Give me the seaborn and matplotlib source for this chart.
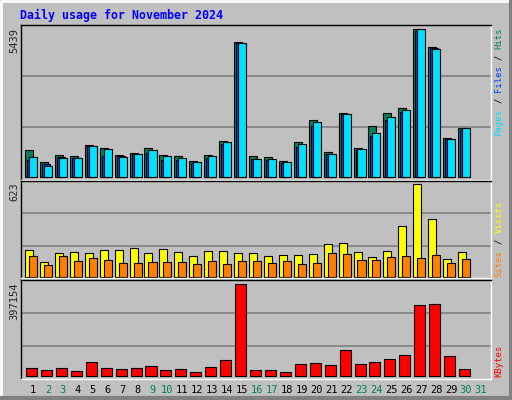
import matplotlib
matplotlib.use("Agg")
import matplotlib.pyplot as plt
import seaborn as sns
import numpy as np

sns.set_style("white")
plt.rcParams['font.family'] = ['DejaVu Sans Mono']

days = list(range(1, 31))
hits = [972, 529, 799, 762, 1169, 1046, 799, 873, 1046, 799, 762, 578, 799, 1316, 4969, 762, 726, 578, 1279, 2091, 910, 2349, 1058, 1870, 2349, 2534, 5439, 4785, 1427, 1796]
files = [615, 468, 726, 689, 1132, 763, 763, 836, 874, 615, 615, 504, 689, 1205, 4945, 652, 615, 504, 1095, 1870, 836, 2312, 984, 1500, 2090, 2386, 5390, 4748, 1390, 1722]
pages = [726, 394, 689, 689, 1132, 1022, 726, 836, 984, 763, 689, 541, 763, 1267, 4932, 652, 652, 541, 1205, 2017, 836, 2312, 1021, 1611, 2214, 2460, 5439, 4723, 1390, 1796]
visits = [178, 97, 157, 164, 157, 178, 178, 191, 157, 184, 164, 137, 171, 171, 157, 157, 137, 144, 144, 151, 218, 225, 164, 130, 171, 340, 623, 387, 117, 164]
sites = [137, 76, 137, 103, 124, 110, 90, 90, 97, 97, 97, 83, 103, 83, 103, 103, 90, 103, 83, 90, 157, 151, 110, 110, 130, 137, 124, 144, 90, 117]
kbytes = [31890, 23192, 31890, 18843, 58984, 33339, 27541, 31890, 40587, 23192, 27541, 14495, 36238, 66232, 397154, 23192, 23192, 14495, 49287, 53636, 44936, 110165, 49287, 57985, 71030, 88425, 305828, 310177, 84076, 27541]
day_labels = [str(d) for d in range(1, 32)]
weekend = {2, 3, 9, 10, 16, 17, 23, 24, 30, 31}

W, H = 512, 400
fig = plt.figure(figsize=(W / 100, H / 100), dpi=100)
fig.patch.set_facecolor('#c0c0c0')

def rect(top, bottom, left=21, right=491):
    return [left / W, 1 - bottom / H, (right - left) / W, (bottom - top) / H]

x = np.array(days, dtype=float)
xlim = (0.196, 31.67)

def setup(ax, zero_px, max_px, top, bottom, vmax, grid_px):
    span = zero_px - max_px
    per = vmax / span
    ax.set_ylim(-(bottom - zero_px) * per, vmax + (max_px - top) * per)
    ax.set_xlim(*xlim)
    ax.set_facecolor('#c0c0c0')
    for g in grid_px:
        ax.axhline((zero_px - g) * per, color='#808080', lw=1.2, zorder=0)
    ax.set_xticks([]); ax.set_yticks([])
    for s in ax.spines.values():
        s.set_color('black'); s.set_linewidth(1)
    ax.spines['right'].set_color('white'); ax.spines['bottom'].set_color('white')

ax1 = fig.add_axes(rect(25, 180))
setup(ax1, 176.7, 29.3, 25, 180, 5439, [127, 76])
ax1.bar(x - 0.536, hits, width=0.536, align='edge', color='#00805c', edgecolor='black', lw=0.8)
ax1.bar(x - 0.4, files, width=0.53, align='edge', color='#0040ff', edgecolor='black', lw=0.8)
ax1.bar(x - 0.27, pages, width=0.54, align='edge', color='#00e0ff', edgecolor='black', lw=0.8)

ax2 = fig.add_axes(rect(181, 278))
setup(ax2, 276.7, 184.3, 181, 278, 623, [246.3, 213.3])
ax2.bar(x - 0.536, visits, width=0.536, align='edge', color='#ffff00', edgecolor='black', lw=0.8)
ax2.bar(x - 0.27, sites, width=0.54, align='edge', color='#ff8000', edgecolor='black', lw=0.8)

ax3 = fig.add_axes(rect(280, 379))
setup(ax3, 375.7, 284.3, 280, 379, 397154, [345.7, 313.3])
ax3.bar(x - 0.47, kbytes, width=0.74, align='edge', color='#ff0000', edgecolor='black', lw=0.8)
ax3.set_xticks(range(1, 32))
ax3.set_xticklabels(day_labels, fontsize=7.5)
ax3.tick_params(axis='x', length=0, pad=4)
for t, d in zip(ax3.get_xticklabels(), range(1, 32)):
    t.set_color('#00805c' if d in weekend else 'black')

fig.text(20 / W, 1 - 15 / H, "Daily usage for November 2024", color='#0000ff',
         fontsize=8.4, fontweight='bold', va='center', ha='left')

for txt, y in [("5439", 28), ("623", 182), ("397154", 282)]:
    fig.text(14 / W, 1 - y / H, txt, rotation=90, fontsize=7.5, va='top', ha='center')

def side(parts, bottom_px, char_px=5.45):
    y = bottom_px
    for s, c in parts:
        lead = len(s) - len(s.lstrip())
        core = s.strip()
        fig.text(499 / W, 1 - (y - lead * char_px) / H, core, rotation=90, color=c,
                 fontsize=6.4, va='bottom', ha='center')
        y -= len(s) * char_px

side([("Pages", '#00e0ff'), (" / ", 'black'), ("Files", '#0040ff'), (" / ", 'black'), ("Hits", '#00805c')], 136)
side([("Sites", '#ff8000'), (" / ", 'black'), ("Visits", '#ffff00')], 277)
side([("KBytes", '#ff0000')], 377)

fig.add_artist(plt.Line2D([0.002, 0.002, 0.998], [0.002, 0.998, 0.998], color='white', lw=2, transform=fig.transFigure))
fig.add_artist(plt.Line2D([0.002, 0.998, 0.998], [0.004, 0.004, 0.998], color='#808080', lw=3, transform=fig.transFigure))

fig.savefig("out.png", dpi=100, facecolor=fig.get_facecolor())
